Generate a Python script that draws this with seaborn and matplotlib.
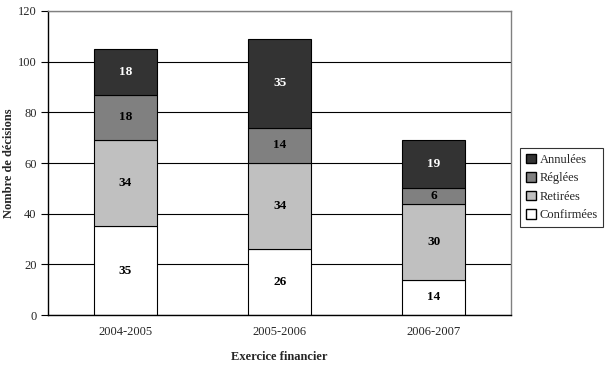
import numpy as np
import pandas as pd
import matplotlib
matplotlib.use('Agg')
import matplotlib.pyplot as plt
import seaborn as sns
from matplotlib.patches import Patch

# data
exercices = ['2004-2005', '2005-2006', '2006-2007']
confirmees = [35, 26, 14]
retirees = [34, 34, 30]
reglees = [18, 14, 6]
annulees = [18, 35, 19]

series = [('Confirmées', confirmees, '#ffffff', 'black'),
          ('Retirées', retirees, '#c0c0c0', 'black'),
          ('Réglées', reglees, '#808080', 'black'),
          ('Annulées', annulees, '#333333', 'white')]

sns.set_style('white')
plt.rcParams['font.family'] = ['Liberation Serif', 'DejaVu Serif']
plt.rcParams['font.size'] = 9

fig = plt.figure(figsize=(6.06, 3.66), dpi=100)
ax = fig.add_axes([0.080, 0.139, 0.763, 0.831])

# gridlines behind bars
ax.set_axisbelow(True)
ax.yaxis.grid(True, color='black', linewidth=0.8)

bottom = np.zeros(len(exercices))
for name, vals, color, txtcol in series:
    df = pd.DataFrame({'ex': exercices, 'v': vals})
    sns.barplot(data=df, x='ex', y='v', ax=ax, color=color, width=0.41,
                edgecolor='black', linewidth=0.8, bottom=bottom, saturation=1)
    for i, v in enumerate(vals):
        ax.text(i, bottom[i] + v / 2, str(v), ha='center', va='center',
                color=txtcol, fontweight='bold', fontsize=9.5)
    bottom = bottom + np.array(vals)

ax.set_xlim(-0.5, 2.5)
ax.set_ylim(0, 120)
ax.set_yticks(range(0, 121, 20))
ax.set_xticks([0.5, 1.5], minor=True)
ax.tick_params(axis='x', which='major', length=0, pad=8)
ax.tick_params(axis='x', which='minor', length=5, direction='out', color='black')
ax.tick_params(axis='y', length=5, direction='out', color='black', left=True)

ax.set_xlabel('Exercice financier', fontweight='bold', labelpad=9)
ax.set_ylabel('Nombre de décisions', fontweight='bold', labelpad=2)

for s in ['left', 'bottom']:
    ax.spines[s].set_color('black')
    ax.spines[s].set_linewidth(1)
for s in ['top', 'right']:
    ax.spines[s].set_color('#808080')
    ax.spines[s].set_linewidth(1)

handles = [Patch(facecolor=c, edgecolor='black', label=n) for n, _, c, _ in series[::-1]]
leg = fig.legend(handles=handles, loc='upper left', bbox_to_anchor=(0.848, 0.612),
                 frameon=True, fancybox=False, edgecolor='black', fontsize=9,
                 handlelength=0.8, handleheight=0.8, handletextpad=0.3,
                 borderpad=0.45, labelspacing=0.5)
leg.get_frame().set_linewidth(0.8)

fig.savefig('out.png', dpi=100)
